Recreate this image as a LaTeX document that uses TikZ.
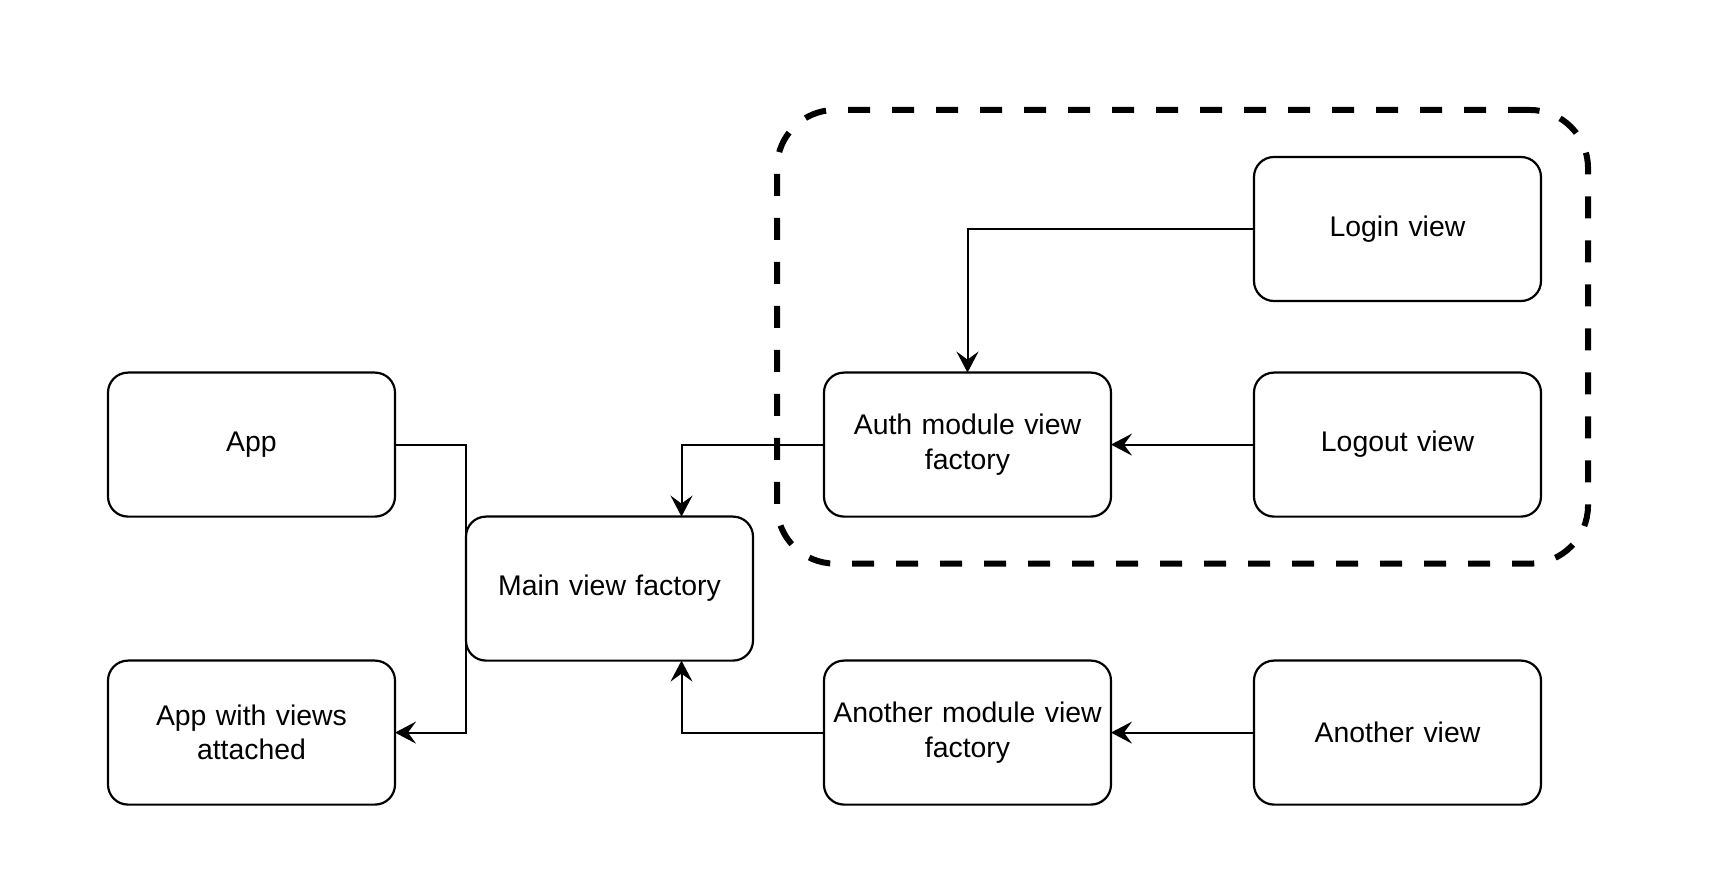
\documentclass[tikz,border=0pt]{standalone}
\usepackage{fontspec}
\setmainfont{Liberation Sans}
\usetikzlibrary{matrix, fit, arrows.meta}

\begin{document}
\begin{tikzpicture}
    [outer sep = 0pt, view/.style={rectangle, rounded corners=10pt, draw=black,
      fill = white, line width = 1.1pt, text width = 135pt, minimum width = 143.5pt,
      minimum height = 72pt, inner sep = 0pt, align=center,
      font=\fontsize{14.2pt}{17.2pt}\selectfont},
    flow/.style={-{Stealth[length=10.5pt, width=11pt, inset=4pt]}, line width = 1pt},
    module/.style={draw=black, line width = 3pt, dash pattern=on 11pt off 11pt,
      rounded corners=29pt, inner sep = 23.5pt}]
    \useasboundingbox (0,0) rectangle (867pt,-443pt);
    \matrix (view_tree) [matrix of nodes, column sep=34.4pt, row sep=-1.1pt,
    anchor=north west, inner sep=0pt,
    nodes = {view, anchor=center}] at (53.45pt,-77.95pt) {
      & & &[36pt] |(login)| Login view \\[35.8pt]
      |(app)| App & & |(auth)| {Auth module view\\factory} & |(logout)| Logout view \\
      & |(main)| Main view factory & & \\
      |(attached)| {App with views\\attached} & & |(another_factory)| {Another module view\\factory} & |(another)| Another view \\
    };
    \node [module, fit=(auth) (login) (logout)] (auth_module) {};
    \draw [flow] (login.west) -| (auth.north);
    \draw [flow] (logout.west) -- (auth.east);
    \draw [flow] (auth.west) -| ([xshift=36pt]main.north);
    \draw [flow] (another_factory.west) -| ([xshift=36pt]main.south);
    \draw [flow] (another.west) -- (another_factory.east);
    \draw [flow] (app.east) -| (main.west |- attached.east) -- (attached.east);
  \end{tikzpicture}
\end{document}
